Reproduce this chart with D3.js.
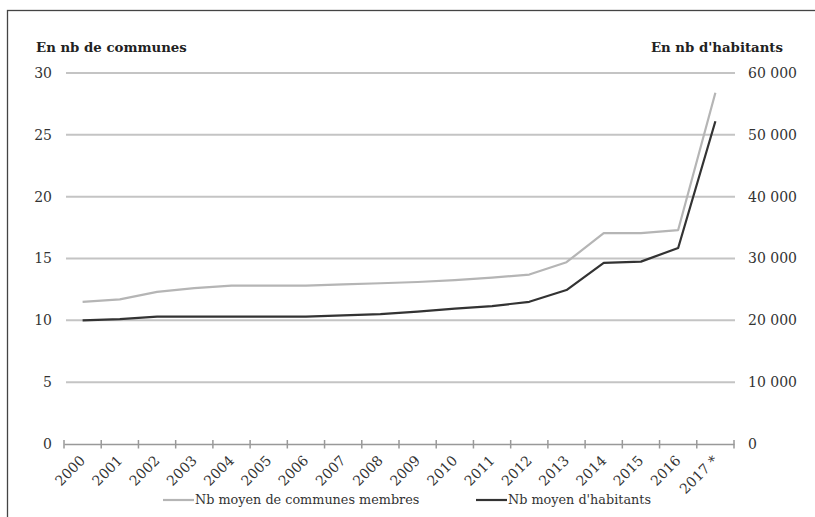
<!DOCTYPE html>
<html><head><meta charset="utf-8">
<script src="https://cdn.jsdelivr.net/npm/d3@7"></script>
<style>body{margin:0;background:#fff;} svg{display:block;}</style>
</head><body>
<svg id="c" width="815" height="517"></svg>
<script>
const years = ["2000","2001","2002","2003","2004","2005","2006","2007","2008","2009","2010","2011","2012","2013","2014","2015","2016","2017 *"];
const communes = [11.5,11.7,12.3,12.6,12.8,12.8,12.8,12.9,13.0,13.1,13.25,13.45,13.7,14.7,17.05,17.05,17.3,28.4];
const habitants = [20000,20200,20600,20600,20600,20600,20600,20800,21000,21400,21900,22300,23000,24900,29300,29500,31700,52200];
const leftTicks = [0,5,10,15,20,25,30];
const rightTicks = [0,10000,20000,30000,40000,50000,60000];
const seriesNames = ["Nb moyen de communes membres","Nb moyen d'habitants"];

const svg = d3.select("#c");
const font = "DejaVu Serif";
svg.append("rect").attr("x",7.5).attr("y",10.5).attr("width",830).attr("height",520)
  .attr("fill","none").attr("stroke","#444").attr("stroke-width",1.3);

const x = d3.scaleBand().domain(years).range([64,734]).padding(0);
const yL = d3.scaleLinear().domain([0,30]).range([444,73]);
const yR = d3.scaleLinear().domain([0,60000]).range([444,73]);
const loc = d3.formatLocale({decimal:",",thousands:"\u00a0",grouping:[3],currency:["","€"]});
const fmt = loc.format(",d");

// gridlines
svg.append("g").selectAll("line").data(leftTicks.filter(d=>d>0)).join("line")
  .attr("x1",66).attr("x2",735).attr("y1",d=>yL(d)).attr("y2",d=>yL(d))
  .attr("stroke","#c4c4c4").attr("stroke-width",2);

// left labels
svg.append("g").selectAll("text").data(leftTicks).join("text")
  .attr("x",52).attr("y",d=>yL(d)).attr("dy","0.35em").attr("text-anchor","end")
  .attr("font-family",font).attr("font-size",14).attr("fill","#333").text(d=>d);
// right labels
svg.append("g").selectAll("text").data(rightTicks).join("text")
  .attr("x",748).attr("y",d=>yR(d)).attr("dy","0.35em").attr("text-anchor","start")
  .attr("font-family",font).attr("font-size",14).attr("fill","#333").text(d=>fmt(d));

// x axis
const xAxis = svg.append("g").attr("transform","translate(0,444)")
  .call(d3.axisBottom(x).tickSize(0).tickFormat(""));
xAxis.select(".domain").attr("stroke","#999").attr("stroke-width",1.5);
const tickPos = years.map(d=>x(d)).concat([x(years[years.length-1])+x.bandwidth()]);
svg.append("g").selectAll("line").data(tickPos).join("line")
  .attr("x1",d=>d).attr("x2",d=>d).attr("y1",440).attr("y2",448.5)
  .attr("stroke","#999").attr("stroke-width",1.5);
svg.append("g").selectAll("text").data(years).join("text")
  .attr("transform",d=>`translate(${x(d)+x.bandwidth()/2},458) rotate(-45)`)
  .attr("text-anchor","end").attr("dy","0.35em")
  .attr("font-family",font).attr("font-size",14).attr("fill","#333").text(d=>d);

// lines
const cx = d=>x(d)+x.bandwidth()/2;
const line1 = d3.line().x((d,i)=>cx(years[i])).y(d=>yL(d));
const line2 = d3.line().x((d,i)=>cx(years[i])).y(d=>yR(d));
svg.append("path").datum(communes).attr("d",line1).attr("fill","none")
  .attr("stroke","#b5b5b5").attr("stroke-width",2.2).attr("stroke-linejoin","round");
svg.append("path").datum(habitants).attr("d",line2).attr("fill","none")
  .attr("stroke","#333").attr("stroke-width",2.2).attr("stroke-linejoin","round");

// titles
svg.append("text").attr("x",36).attr("y",52).attr("font-family",font).attr("font-weight","bold")
  .attr("font-size",13.3).attr("fill","#222").text("En nb de communes");
svg.append("text").attr("x",783).attr("y",52).attr("text-anchor","end").attr("font-family",font).attr("font-weight","bold")
  .attr("font-size",13.3).attr("fill","#222").text("En nb d'habitants");

// legend
const leg = [{x:163,c:"#b5b5b5",t:seriesNames[0]},{x:476,c:"#333",t:seriesNames[1]}];
const lg = svg.append("g").selectAll("g").data(leg).join("g");
lg.append("line").attr("x1",d=>d.x).attr("x2",d=>d.x+31).attr("y1",500).attr("y2",500)
  .attr("stroke",d=>d.c).attr("stroke-width",2.2);
lg.append("text").attr("x",d=>d.x+32).attr("y",500).attr("dy","0.35em")
  .attr("font-family",font).attr("font-size",12.8).attr("fill","#333").text(d=>d.t);
</script>
</body></html>
